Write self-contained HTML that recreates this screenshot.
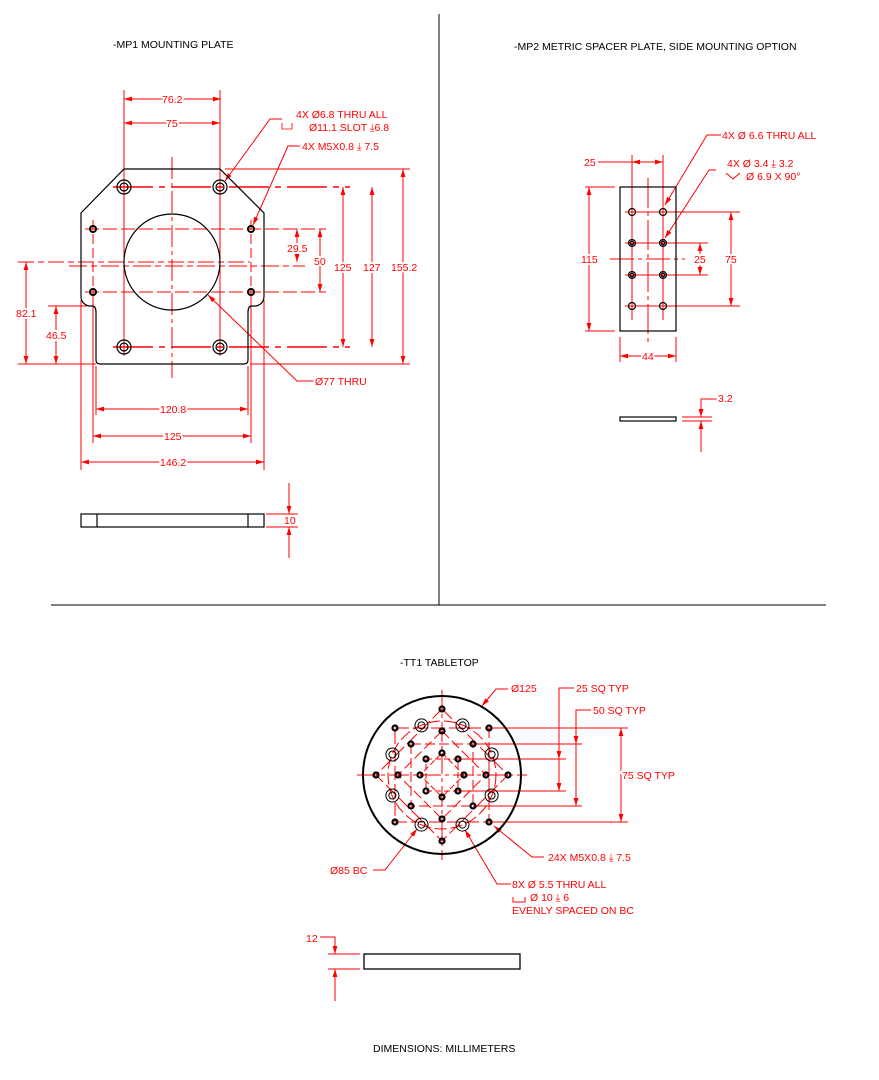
<!DOCTYPE html>
<html><head><meta charset="utf-8"><style>
html,body{margin:0;padding:0;background:#fff;}
svg{display:block;}
text{font-family:"Liberation Sans",sans-serif;font-size:10.5px;paint-order:stroke;stroke:#fff;stroke-width:4px;stroke-linejoin:round;}
.r{fill:#f00;}
.k{fill:#000;}
</style></head><body>
<svg width="879" height="1080" viewBox="0 0 879 1080" xmlns="http://www.w3.org/2000/svg">
<defs>
<marker id="a" viewBox="0 0 10 6" refX="10" refY="3" markerWidth="8" markerHeight="5" orient="auto-start-reverse" markerUnits="userSpaceOnUse"><path d="M0,0L10,3L0,6z" fill="#f00"/></marker>
</defs>
<g stroke="#000" stroke-width="1" fill="none">
<line x1="439" y1="14" x2="439" y2="605"/>
<line x1="51" y1="605" x2="826" y2="605"/>
</g>
<text class="k" x="113" y="48">-MP1 MOUNTING PLATE</text>
<text class="k" x="514" y="50">-MP2 METRIC SPACER PLATE, SIDE MOUNTING OPTION</text>
<text class="k" x="400" y="666">-TT1 TABLETOP</text>
<text class="k" x="373" y="1052">DIMENSIONS:  MILLIMETERS</text>

<g stroke="#f00" stroke-width="1" fill="none">
<line x1="124" y1="90" x2="124" y2="356"/>
<line x1="220" y1="90" x2="220" y2="356"/>
<line x1="172" y1="157" x2="172" y2="378" stroke-dasharray="22,4,4,4"/>
<line x1="93" y1="220" x2="93" y2="300" stroke-dasharray="10,4"/>
<line x1="251" y1="220" x2="251" y2="300" stroke-dasharray="10,4"/>
<line x1="81" y1="300" x2="81" y2="470"/>
<line x1="264" y1="300" x2="264" y2="470"/>
<line x1="96" y1="366" x2="96" y2="415"/>
<line x1="248" y1="366" x2="248" y2="415"/>
<line x1="93" y1="300" x2="93" y2="443"/>
<line x1="251" y1="300" x2="251" y2="443"/>
<line x1="113" y1="187" x2="350" y2="187" stroke-width="1.5" stroke-dasharray="40,6,6,6"/>
<line x1="113" y1="347" x2="350" y2="347" stroke-width="1.5" stroke-dasharray="40,6,6,6"/>
<line x1="225" y1="169" x2="410" y2="169"/>
<line x1="85" y1="229" x2="326" y2="229" stroke-dasharray="14,4"/>
<line x1="85" y1="292" x2="326" y2="292" stroke-dasharray="14,4"/>
<line x1="69" y1="266" x2="305" y2="266" stroke-dasharray="18,4,6,4"/>
<line x1="18" y1="262" x2="250" y2="262" stroke-dasharray="16,4,6,4"/>
<line x1="18" y1="364" x2="96" y2="364"/>
<line x1="250" y1="364" x2="410" y2="364"/>
<line x1="48" y1="306" x2="87" y2="306"/>
<line x1="124" y1="99" x2="221" y2="99" marker-start="url(#a)" marker-end="url(#a)"/>
<line x1="124" y1="123" x2="220" y2="123" marker-start="url(#a)" marker-end="url(#a)"/>
<line x1="297" y1="229" x2="297" y2="262" marker-start="url(#a)" marker-end="url(#a)"/>
<line x1="320" y1="229" x2="320" y2="292" marker-start="url(#a)" marker-end="url(#a)"/>
<line x1="343" y1="187" x2="343" y2="347" marker-start="url(#a)" marker-end="url(#a)"/>
<line x1="372" y1="187" x2="372" y2="347" marker-start="url(#a)" marker-end="url(#a)"/>
<line x1="403" y1="169" x2="403" y2="364" marker-start="url(#a)" marker-end="url(#a)"/>
<line x1="26" y1="262" x2="26" y2="364" marker-start="url(#a)" marker-end="url(#a)"/>
<line x1="56" y1="306" x2="56" y2="364" marker-start="url(#a)" marker-end="url(#a)"/>
<line x1="96" y1="409" x2="248" y2="409" marker-start="url(#a)" marker-end="url(#a)"/>
<line x1="93" y1="436" x2="251" y2="436" marker-start="url(#a)" marker-end="url(#a)"/>
<line x1="81" y1="462" x2="264" y2="462" marker-start="url(#a)" marker-end="url(#a)"/>
<polyline points="282,119 270,119 225,181" marker-end="url(#a)"/>
<polyline points="300,146 288,146 253,225" marker-end="url(#a)"/>
<polyline points="314,381 297,381 208,295" marker-end="url(#a)"/>
<line x1="266" y1="514" x2="298" y2="514"/>
<line x1="266" y1="527" x2="298" y2="527"/>
<line x1="289" y1="483" x2="289" y2="514" marker-end="url(#a)"/>
<line x1="289" y1="558" x2="289" y2="527" marker-end="url(#a)"/>
<path d="M292,123 v6 h-10 v-6" stroke-width="0.8"/>
</g>
<g class="r">
<text x="162" y="103">76.2</text>
<text x="166" y="127">75</text>
<text x="296" y="118">4X  Ø6.8 THRU ALL</text>
<text x="309" y="131">Ø11.1 SLOT ⤓6.8</text>
<text x="302" y="150">4X M5X0.8 ⤓ 7.5</text>
<text x="287" y="252">29.5</text>
<text x="314" y="265">50</text>
<text x="334" y="271">125</text>
<text x="363" y="271">127</text>
<text x="391" y="271">155.2</text>
<text x="16" y="317">82.1</text>
<text x="46" y="339">46.5</text>
<text x="315" y="385">Ø77 THRU</text>
<text x="160" y="413">120.8</text>
<text x="164" y="440">125</text>
<text x="160" y="466">146.2</text>
<text x="284" y="524">10</text>
</g>

<g stroke="#000" stroke-width="1.2" fill="none">
<path d="M124,169 H220 L264,213 V296 Q264,304 256,306 H252 Q248,306 248,312 V360 Q248,364 244,364 H100 Q96,364 96,360 V312 Q96,306 92,306 H89 Q81,304 81,296 V213 Z"/>
<circle cx="172" cy="262" r="48"/>
<circle cx="124" cy="187" r="7"/><circle cx="124" cy="187" r="4"/>
<circle cx="220" cy="187" r="7"/><circle cx="220" cy="187" r="4"/>
<circle cx="124" cy="347" r="7"/><circle cx="124" cy="347" r="4"/>
<circle cx="220" cy="347" r="7"/><circle cx="220" cy="347" r="4"/>
<circle cx="93" cy="229" r="3" stroke-width="2"/>
<circle cx="251" cy="229" r="3" stroke-width="2"/>
<circle cx="93" cy="292" r="3" stroke-width="2"/>
<circle cx="251" cy="292" r="3" stroke-width="2"/>
<rect x="81" y="514" width="183" height="13"/>
<line x1="97" y1="514" x2="97" y2="527"/>
<line x1="248" y1="514" x2="248" y2="527"/>
</g>

<g stroke="#f00" stroke-width="1" fill="none">
<line x1="632" y1="155" x2="632" y2="320"/>
<line x1="663" y1="155" x2="663" y2="320"/>
<line x1="648" y1="178" x2="648" y2="342" stroke-dasharray="30,4,4,4"/>
<line x1="610" y1="259" x2="685" y2="259" stroke-dasharray="24,4,4,4"/>
<line x1="625" y1="212" x2="740" y2="212"/>
<line x1="625" y1="243" x2="708" y2="243"/>
<line x1="625" y1="275" x2="708" y2="275"/>
<line x1="625" y1="306" x2="740" y2="306"/>
<line x1="585" y1="187" x2="615" y2="187"/>
<line x1="585" y1="331" x2="615" y2="331"/>
<line x1="620" y1="337" x2="620" y2="362"/>
<line x1="676" y1="337" x2="676" y2="362"/>
<line x1="598" y1="162" x2="632" y2="162"/>
<line x1="632" y1="162" x2="663" y2="162" marker-start="url(#a)" marker-end="url(#a)"/>
<line x1="589" y1="187" x2="589" y2="331" marker-start="url(#a)" marker-end="url(#a)"/>
<line x1="700" y1="243" x2="700" y2="275" marker-start="url(#a)" marker-end="url(#a)"/>
<line x1="731" y1="212" x2="731" y2="306" marker-start="url(#a)" marker-end="url(#a)"/>
<line x1="620" y1="356" x2="676" y2="356" marker-start="url(#a)" marker-end="url(#a)"/>
<polyline points="724,135 707,135 665,205" marker-end="url(#a)"/>
<polyline points="716,170 709,170 665,238" marker-end="url(#a)"/>
<line x1="682" y1="417" x2="712" y2="417"/>
<line x1="682" y1="421" x2="712" y2="421"/>
<polyline points="718,399 701,399 701,417" marker-end="url(#a)"/>
<line x1="701" y1="452" x2="701" y2="421" marker-end="url(#a)"/>
<path d="M726,173 l7,6 l7,-6"/>
</g>
<g class="r">
<text x="722" y="139">4X  Ø  6.6 THRU ALL</text>
<text x="584" y="166">25</text>
<text x="727" y="167">4X  Ø  3.4 ⤓ 3.2</text>
<text x="746" y="180">Ø  6.9 X 90°</text>
<text x="581" y="263">115</text>
<text x="694" y="263">25</text>
<text x="725" y="263">75</text>
<text x="642" y="360">44</text>
<text x="718" y="402">3.2</text>
</g>
<g stroke="#000" stroke-width="1.2" fill="none">
<rect x="620" y="187" width="56" height="144"/>
<circle cx="632" cy="212" r="3.5"/><circle cx="663" cy="212" r="3.5"/>
<circle cx="632" cy="306" r="3.5"/><circle cx="663" cy="306" r="3.5"/>
<circle cx="632" cy="243" r="3.5"/><circle cx="632" cy="243" r="1.8"/>
<circle cx="663" cy="243" r="3.5"/><circle cx="663" cy="243" r="1.8"/>
<circle cx="632" cy="275" r="3.5"/><circle cx="632" cy="275" r="1.8"/>
<circle cx="663" cy="275" r="3.5"/><circle cx="663" cy="275" r="1.8"/>
<rect x="620" y="417" width="56" height="4"/>
</g>

<g stroke="#f00" stroke-width="1" fill="none">
<line x1="442" y1="690" x2="442" y2="860" stroke-dasharray="20,4,4,4"/>
<line x1="357" y1="775" x2="527" y2="775" stroke-dasharray="20,4,4,4"/>
<rect x="395" y="728" width="94" height="94" stroke-dasharray="14,4"/>
<rect x="411" y="744" width="62" height="62" stroke-dasharray="10,4"/>
<rect x="426" y="759" width="32" height="32" stroke-dasharray="6,3"/>
<polygon points="442,709 508,775 442,841 376,775" stroke-dasharray="14,4"/>
<polygon points="442,731 486,775 442,819 398,775" stroke-dasharray="10,4"/>
<polygon points="442,753 464,775 442,797 420,775" stroke-dasharray="6,3"/>
<circle cx="442" cy="775" r="54" stroke-dasharray="12,4"/>
<line x1="489" y1="728" x2="628" y2="728"/>
<line x1="489" y1="822" x2="628" y2="822"/>
<line x1="473" y1="744" x2="582" y2="744"/>
<line x1="473" y1="806" x2="582" y2="806"/>
<line x1="458" y1="759" x2="566" y2="759"/>
<line x1="458" y1="791" x2="566" y2="791"/>
<line x1="621" y1="728" x2="621" y2="822" marker-start="url(#a)" marker-end="url(#a)"/>
<polyline points="574,688 559,688 559,759" marker-end="url(#a)"/>
<line x1="559" y1="791" x2="559" y2="759" marker-start="url(#a)"/>
<polyline points="591,710 576,710 576,744" marker-end="url(#a)"/>
<line x1="576" y1="806" x2="576" y2="744" marker-start="url(#a)"/>
<polyline points="508,689 496,689 482,706" marker-end="url(#a)"/>
<polyline points="544,857 532,857 494,826" marker-end="url(#a)"/>
<polyline points="511,884 497,884 465,830" marker-end="url(#a)"/>
<polyline points="373,870 385,870 417,829" marker-end="url(#a)"/>
<path d="M513,897 v5 h12 v-5"/>
<line x1="328" y1="954" x2="360" y2="954"/>
<line x1="328" y1="969" x2="360" y2="969"/>
<polyline points="320,937 335,937 335,954" marker-end="url(#a)"/>
<line x1="335" y1="1001" x2="335" y2="969" marker-end="url(#a)"/>
</g>
<g class="r">
<text x="511" y="692">Ø125</text>
<text x="576" y="692">25 SQ TYP</text>
<text x="593" y="714">50 SQ TYP</text>
<text x="622" y="779">75 SQ TYP</text>
<text x="548" y="861">24X M5X0.8 ⤓ 7.5</text>
<text x="330" y="874">Ø85 BC</text>
<text x="512" y="888">8X  Ø  5.5 THRU ALL</text>
<text x="530" y="901">Ø  10 ⤓ 6</text>
<text x="512" y="914">EVENLY SPACED ON BC</text>
<text x="306" y="942">12</text>
</g>
<g stroke="#000" fill="none">
<circle cx="442" cy="775" r="79" stroke-width="2"/>
<g stroke-width="2.2">
<circle cx="395" cy="728" r="2.5"/><circle cx="489" cy="728" r="2.5"/><circle cx="395" cy="822" r="2.5"/><circle cx="489" cy="822" r="2.5"/>
<circle cx="442" cy="709" r="2.5"/><circle cx="442" cy="841" r="2.5"/><circle cx="376" cy="775" r="2.5"/><circle cx="508" cy="775" r="2.5"/>
<circle cx="411" cy="744" r="2.5"/><circle cx="473" cy="744" r="2.5"/><circle cx="411" cy="806" r="2.5"/><circle cx="473" cy="806" r="2.5"/>
<circle cx="442" cy="731" r="2.5"/><circle cx="442" cy="819" r="2.5"/><circle cx="398" cy="775" r="2.5"/><circle cx="486" cy="775" r="2.5"/>
<circle cx="426" cy="759" r="2.5"/><circle cx="458" cy="759" r="2.5"/><circle cx="426" cy="791" r="2.5"/><circle cx="458" cy="791" r="2.5"/>
<circle cx="442" cy="753" r="2.5"/><circle cx="442" cy="797" r="2.5"/><circle cx="420" cy="775" r="2.5"/><circle cx="464" cy="775" r="2.5"/>
</g>
<g stroke-width="1">
<circle cx="421.5" cy="725.4" r="6.5"/><circle cx="421.5" cy="725.4" r="3.5"/>
<circle cx="462.5" cy="725.4" r="6.5"/><circle cx="462.5" cy="725.4" r="3.5"/>
<circle cx="421.5" cy="824.6" r="6.5"/><circle cx="421.5" cy="824.6" r="3.5"/>
<circle cx="462.5" cy="824.6" r="6.5"/><circle cx="462.5" cy="824.6" r="3.5"/>
<circle cx="392.4" cy="754.5" r="6.5"/><circle cx="392.4" cy="754.5" r="3.5"/>
<circle cx="491.6" cy="754.5" r="6.5"/><circle cx="491.6" cy="754.5" r="3.5"/>
<circle cx="392.4" cy="795.5" r="6.5"/><circle cx="392.4" cy="795.5" r="3.5"/>
<circle cx="491.6" cy="795.5" r="6.5"/><circle cx="491.6" cy="795.5" r="3.5"/>
</g>
<rect x="364" y="954" width="156" height="15" stroke-width="1.3"/>
</g>
</svg>
</body></html>
